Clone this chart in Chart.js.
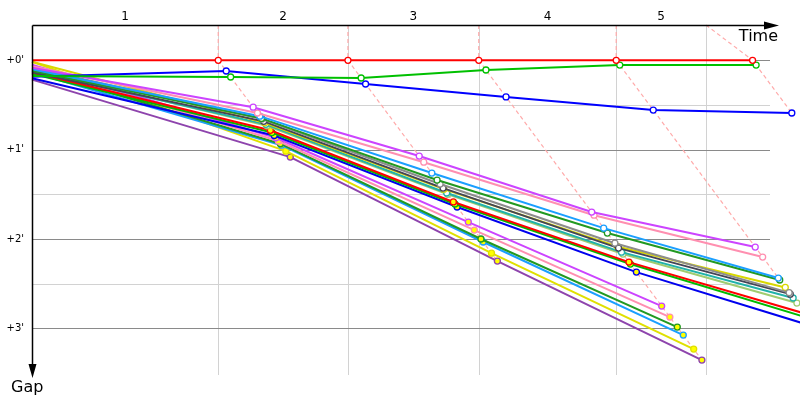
<!DOCTYPE html>
<html lang="en">
<head>
<meta charset="UTF-8">
<title>Race Gaps</title>
<script src="https://cdn.jsdelivr.net/npm/chart.js"></script>
<style>
    html, body { margin: 0; padding: 0; background: #fff; }
    #wrap { width: 800px; height: 400px; position: relative; }
</style>
</head>
<body>
<div id="wrap"><canvas id="gapChart"></canvas></div>
<script>
// leader crossing time at each lap (s) and the lap marks on the time axis
const lapTimes = [168, 285, 403, 527, 650];
const lapMarks = [168, 285, 403, 527, 608];
const lapLabels = ['1', '2', '3', '4', '5'];
const gapTicks = [0, 60, 120, 180];
const gapTickLabels = ["+0'", "+1'", "+2'", "+3'"];
const halfTicks = [30, 90, 150];

// gap (s) of each rider: start, then each lap (null = no more data)
// order: leader, green, blue, then the chasing riders
const gapsStart = [0, 10.5, 11, 5, 4, 6, 7, 5, 8, 1, 7, 6, 8, 9, 12, 3, 4, 6, 8, 1, 13];
const gapsLap1 = [0, 11.2, 7.2, 31.5, 35.4, 37.5, 39, 39.4, 41, 42, 43, 44, 47, 48.5, 50.5, 52, 54.2, 56, 57, 61, 65];
const gapsLap2 = [0, 11.9, 15.9, 64.3, 68.4, 75.7, 80.4, 83.1, 85.8, 86.5, 89.1, 90, 95.1, 96.5, 98.5, 108.6, 114, 120, 122, 129.5, 134.8];
const gapsLap3 = [0, 6.5, 24.6, 101.9, 104, 112.7, 116, 122.8, 126.1, 125, 128.8, 130.1, 135.5, 136.8, 142.2, 165, 172.4, 179.1, 184.5, 193.9, 201.3];
const gapsLap4 = [0, 3.2, 33.4, 125.4, 132.1, 146.2, 147.5, 156, 157, 152.5, 159.6, 163, 170, 173, 179, null, null, null, null, null, null];
const gapsLap5 = [0, 3.2, 35.4, null, null, null, null, null, null, null, null, null, null, null, null, null, null, null, null, null, null];

// styles
const riderColors = ['#ff0000', '#00c000', '#0000ff', '#cc44ff', '#ff8fb0', '#1a9fff', '#229922', '#8c8c8c',
    '#444455', '#d8d800', '#20b2aa', '#a0cc70', '#ff0000', '#00bb00', '#0000ee', '#cc44ff', '#ff8fb0',
    '#229922', '#1a9fff', '#e0e000', '#8e44ad'];
const filledMarks = [false, false, false, false, false, false, false, false, false, false, false, false,
    true, true, true, true, true, true, true, true, true];

const allLaps = [gapsLap1, gapsLap2, gapsLap3, gapsLap4, gapsLap5];

const riderSets = riderColors.map((color, i) => {
    const pts = [{x: 0, y: gapsStart[i]}];
    allLaps.forEach((lap, k) => {
        if (lap[i] !== null) pts.push({x: lapTimes[k] + lap[i], y: lap[i]});
    });
    return {
        data: pts,
        borderColor: color,
        borderWidth: 2,
        pointRadius: c => c.dataIndex === 0 ? 0 : 3,
        pointBorderColor: color,
        pointBorderWidth: 1.3,
        pointBackgroundColor: filledMarks[i] ? '#ffff00' : '#ffffff',
        clip: false,
        order: 1
    };
});

const Y_MIN = -23.7, Y_MAX = 211.3;

// dashed lines joining every rider's crossing of the same lap
const lapSets = allLaps.map((lap, k) => {
    const gaps = lap.filter(g => g !== null).sort((a, b) => a - b);
    const pts = [{x: lapMarks[k], y: Y_MIN}].concat(gaps.map(g => ({x: lapTimes[k] + g, y: g})));
    return {
        data: pts,
        borderColor: '#ffaaaa',
        borderWidth: 1.2,
        borderDash: [4, 3],
        pointRadius: 0,
        clip: false,
        order: 5
    };
});

const gridRight = 770;

const gapFrame = {
    id: 'gapFrame',
    beforeDatasetsDraw(chart) {
        const {ctx, chartArea: a, scales: {x, y}} = chart;
        ctx.save();
        ctx.lineWidth = 1;
        ctx.strokeStyle = '#d2d2d2';
        lapMarks.forEach(t => {
            const px = Math.round(x.getPixelForValue(t)) + 0.5;
            ctx.beginPath(); ctx.moveTo(px, a.top); ctx.lineTo(px, a.bottom); ctx.stroke();
        });
        halfTicks.forEach(g => {
            const py = Math.round(y.getPixelForValue(g)) + 0.5;
            ctx.beginPath(); ctx.moveTo(a.left, py); ctx.lineTo(gridRight, py); ctx.stroke();
        });
        ctx.strokeStyle = '#8a8a8a';
        gapTicks.forEach(g => {
            const py = Math.round(y.getPixelForValue(g)) + 0.5;
            ctx.beginPath(); ctx.moveTo(a.left, py); ctx.lineTo(gridRight, py); ctx.stroke();
        });
        ctx.restore();
    },
    afterDraw(chart) {
        const {ctx, chartArea: a, scales: {x, y}} = chart;
        ctx.save();
        ctx.strokeStyle = '#000';
        ctx.fillStyle = '#000';
        ctx.lineWidth = 1.5;
        const ax = Math.round(a.left) + 0.5, ay = Math.round(a.top) + 0.5;
        // time axis
        ctx.beginPath(); ctx.moveTo(ax, ay); ctx.lineTo(768, ay); ctx.stroke();
        ctx.beginPath(); ctx.moveTo(764, ay - 4); ctx.lineTo(779, ay); ctx.lineTo(764, ay + 4); ctx.closePath(); ctx.fill();
        // gap axis
        ctx.beginPath(); ctx.moveTo(ax, ay); ctx.lineTo(ax, 368); ctx.stroke();
        ctx.beginPath(); ctx.moveTo(ax - 4, 364); ctx.lineTo(ax, 378); ctx.lineTo(ax + 4, 364); ctx.closePath(); ctx.fill();

        ctx.font = '16px "DejaVu Sans"';
        ctx.textBaseline = 'alphabetic';
        ctx.textAlign = 'right';
        ctx.fillText('Time', 778, 41);
        ctx.textAlign = 'left';
        ctx.fillText('Gap', 11, 392);

        // lap numbers centred between the marks
        ctx.font = '12px "DejaVu Sans"';
        ctx.textAlign = 'center';
        ctx.textBaseline = 'middle';
        const bounds = [0].concat(lapMarks);
        lapLabels.forEach((lbl, k) => {
            const mid = (x.getPixelForValue(bounds[k]) + x.getPixelForValue(bounds[k + 1])) / 2;
            ctx.fillText(lbl, mid, 17);
        });

        // gap tick labels
        ctx.font = '10px "DejaVu Sans"';
        ctx.textAlign = 'right';
        gapTickLabels.forEach((lbl, k) => {
            ctx.fillText(lbl, 24, y.getPixelForValue(gapTicks[k]));
        });
        ctx.restore();
    }
};

new Chart(document.getElementById('gapChart'), {
    type: 'line',
    data: { datasets: riderSets.concat(lapSets) },
    options: {
        responsive: true,
        maintainAspectRatio: false,
        animation: false,
        events: [],
        layout: { padding: { left: 32, top: 25, right: 0, bottom: 25 } },
        scales: {
            x: { type: 'linear', min: 0, max: 688, display: false },
            y: { type: 'linear', min: Y_MIN, max: Y_MAX, reverse: true, display: false }
        },
        plugins: { legend: { display: false }, tooltip: { enabled: false } }
    },
    plugins: [gapFrame]
});
</script>
</body>
</html>
